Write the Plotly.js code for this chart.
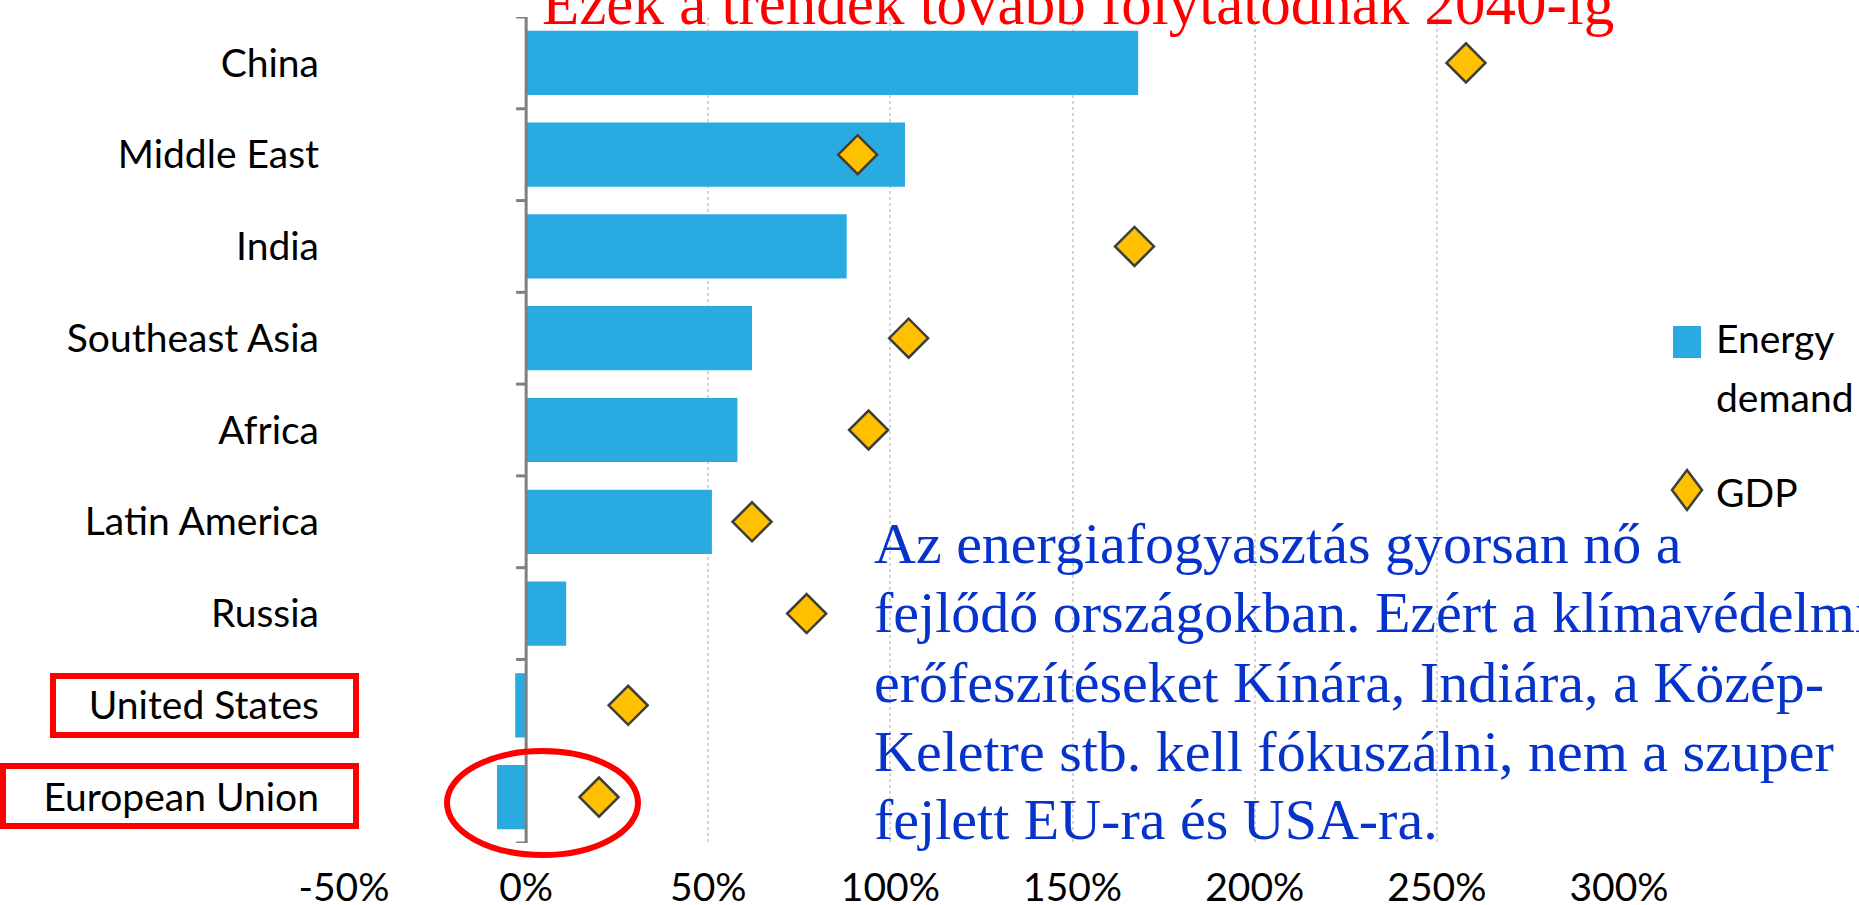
<!DOCTYPE html>
<html>
<head>
<meta charset="utf-8">
<script src="https://cdn.plot.ly/plotly-3.0.1.min.js"></script>
<style>html,body{margin:0;padding:0;background:#fff;overflow:hidden;}#chart{width:1859px;height:905px;}</style>
</head>
<body>
<div id="chart"></div>
<script>
// ---- data ----
const regions = ["China", "Middle East", "India", "Southeast Asia", "Africa", "Latin America", "Russia", "United States", "European Union"];
const energyDemand = [168, 104, 88, 62, 58, 51, 11, -3, -8];   // % change
const gdp = [258, 91, 167, 105, 94, 62, 77, 28, 20];            // % change
const xTicks = [-50, 0, 50, 100, 150, 200, 250, 300];
const xTickLabels = ["-50%", "0%", "50%", "100%", "150%", "200%", "250%", "300%"];
const seriesNames = ["Energy", "demand", "GDP"];
const titleText = "Ezek a trendek tovább folytatódnak 2040-ig";
const noteLines = [
  "Az energiafogyasztás gyorsan nő a",
  "fejlődő országokban. Ezért a klímavédelmi",
  "erőfeszítéseket Kínára, Indiára, a Közép-",
  "Keletre stb. kell fókuszálni, nem a szuper",
  "fejlett EU-ra és USA-ra."
];

// ---- layout geometry ----
const W = 1859, H = 905;
const M = {l: 344, r: 240, t: 17, b: 62};
const PW = W - M.l - M.r, PH = H - M.t - M.b;
const px = x => (x - M.l) / PW;
const py = y => 1 - (y - M.t) / PH;

const labelFont = {family: "Lato, 'Liberation Sans', sans-serif", size: 39, color: "#000"};
const serif = "'Liberation Serif', 'Times New Roman', serif";

const traces = [
  {
    type: "bar", orientation: "h",
    x: energyDemand, y: regions,
    marker: {color: "#29ABE2"},
    name: "Energy demand", showlegend: false, hoverinfo: "x+y"
  },
  {
    type: "scatter", mode: "markers",
    x: gdp, y: regions,
    marker: {symbol: "diamond", size: 30, color: "#FFC000", line: {color: "#3d3d3d", width: 2.5}},
    name: "GDP", showlegend: false, hoverinfo: "x+y"
  }
];

const shapes = [];
// axis line at zero, drawn above bars
shapes.push({type: "line", xref: "x", yref: "paper", x0: 0, x1: 0, y0: 0, y1: 1, line: {color: "#7f7f7f", width: 3}, layer: "above"});
// boundary tick marks on the zero axis
for (let i = 0; i <= regions.length; i++) {
  shapes.push({type: "line", xref: "x", yref: "y", xsizemode: "pixel", xanchor: 0, x0: -10, x1: 0,
    y0: i - 0.5, y1: i - 0.5, line: {color: "#7f7f7f", width: 3}, layer: "above"});
}
// red highlight boxes and ellipse
shapes.push({type: "rect", xref: "paper", yref: "paper", x0: px(53), x1: px(356), y0: py(676), y1: py(735), line: {color: "#ff0000", width: 6}});
shapes.push({type: "rect", xref: "paper", yref: "paper", x0: px(3), x1: px(356), y0: py(766), y1: py(826), line: {color: "#ff0000", width: 6}});
shapes.push({type: "circle", xref: "paper", yref: "paper", x0: px(447), x1: px(638), y0: py(751), y1: py(855), line: {color: "#ff0000", width: 6}, layer: "above"});
// legend symbols
shapes.push({type: "rect", xref: "paper", yref: "paper", x0: px(1673), x1: px(1701), y0: py(326), y1: py(358), fillcolor: "#29ABE2", line: {width: 0}});
shapes.push({type: "path", xref: "paper", yref: "paper", xsizemode: "pixel", ysizemode: "pixel",
  xanchor: px(1687), yanchor: py(490), path: "M0,20 L15,0 L0,-20 L-15,0 Z",
  fillcolor: "#FFC000", line: {color: "#3d3d3d", width: 2.5}});

const annotations = [];
annotations.push({text: titleText, xref: "paper", yref: "paper", x: px(540), y: py(4), xanchor: "left", yanchor: "middle",
  showarrow: false, font: {family: serif, size: 61, color: "#ff0000"}});
const lineCenters = [543, 612, 682, 751, 819];
noteLines.forEach((t, i) => annotations.push({text: t, xref: "paper", yref: "paper", x: px(872), y: py(lineCenters[i]),
  xanchor: "left", yanchor: "middle", showarrow: false, font: {family: serif, size: 58, color: "#0633cc"}}));
// legend text
annotations.push({text: seriesNames[0], xref: "paper", yref: "paper", x: px(1714), y: py(338), xanchor: "left", yanchor: "middle", showarrow: false, font: labelFont});
annotations.push({text: seriesNames[1], xref: "paper", yref: "paper", x: px(1714), y: py(397), xanchor: "left", yanchor: "middle", showarrow: false, font: labelFont});
annotations.push({text: seriesNames[2], xref: "paper", yref: "paper", x: px(1714), y: py(492), xanchor: "left", yanchor: "middle", showarrow: false, font: labelFont});

const layout = {
  width: W, height: H,
  margin: M,
  paper_bgcolor: "#fff", plot_bgcolor: "#fff",
  showlegend: false,
  bargap: 0.3,
  xaxis: {
    range: [-50, 300], tickvals: xTicks, ticktext: xTickLabels,
    showgrid: true, gridcolor: "#d4d4d4", gridwidth: 2, griddash: "dot",
    zeroline: false, showline: false, ticks: "",
    tickfont: labelFont, ticklabelstandoff: 18, fixedrange: true, automargin: false
  },
  yaxis: {
    type: "category", range: [regions.length - 0.5, -0.5],
    showgrid: false, zeroline: false, showline: false, ticks: "",
    tickfont: labelFont, ticklabelstandoff: 24, fixedrange: true, automargin: false
  },
  shapes: shapes,
  annotations: annotations
};

Plotly.newPlot("chart", traces, layout, {displayModeBar: false, staticPlot: true});
</script>
</body>
</html>
